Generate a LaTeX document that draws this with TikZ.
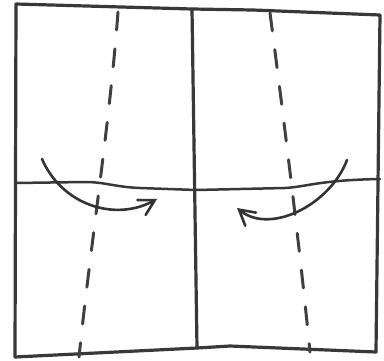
\documentclass[tikz,border=0pt]{standalone}
\usetikzlibrary{arrows.meta}
\begin{document}
\begin{tikzpicture}[x=1pt,y=-1pt,
  pen/.style={line width=3.2pt, draw=black!78, line cap=round, line join=round},
  finepen/.style={line width=2.5pt, draw=black!78, line cap=round, line join=round},
  foldline/.style={line width=3pt, draw=black!75, line cap=round, dash pattern=on 18pt off 19pt},
  turn/.style={line width=2.6pt, draw=black!80, line cap=round,
    -{Straight Barb[length=15pt,width=17pt,line cap=round,line width=2.6pt]}}]
\useasboundingbox (0,0) rectangle (384,360);
% outer square
\coordinate (tl) at (16,4);
\coordinate (tm) at (192,9);
\coordinate (tr) at (380,15);
\coordinate (br) at (376,352);
\coordinate (bm) at (197,348);
\coordinate (bl) at (15,357);
\draw[pen] (tl) -- (tm) -- (253,10) -- (tr) -- (br) -- (230,346) -- (bm) -- (bl) -- cycle;
% centre vertical
\draw[pen] (tm) -- (bm);
% centre horizontal
\coordinate (ml) at (15,183);
\coordinate (mr) at (380,179);
\draw[finepen] (ml) -- (85,182) .. controls (105,182) and (115,187) .. (140,188) -- (196,190) -- (285,188) .. controls (305,187) and (320,180) .. (mr);
% fold lines
\coordinate (la) at (118,12);
\coordinate (lb) at (79,357);
\draw[foldline] (la) .. controls (110,120) and (90,250) .. (lb);
\coordinate (ra) at (270,13);
\coordinate (rb) at (310,352);
\draw[foldline] (ra) .. controls (284,120) and (300,250) .. (rb);
% arrows
\coordinate (a1) at (42,159);
\coordinate (a2) at (157,199);
\draw[turn] (a1) .. controls (62,205) and (115,222) .. (a2);
\coordinate (b1) at (347,160);
\coordinate (b2) at (237,208);
\draw[turn] (b1) .. controls (330,205) and (270,235) .. (b2);
\end{tikzpicture}
\end{document}
